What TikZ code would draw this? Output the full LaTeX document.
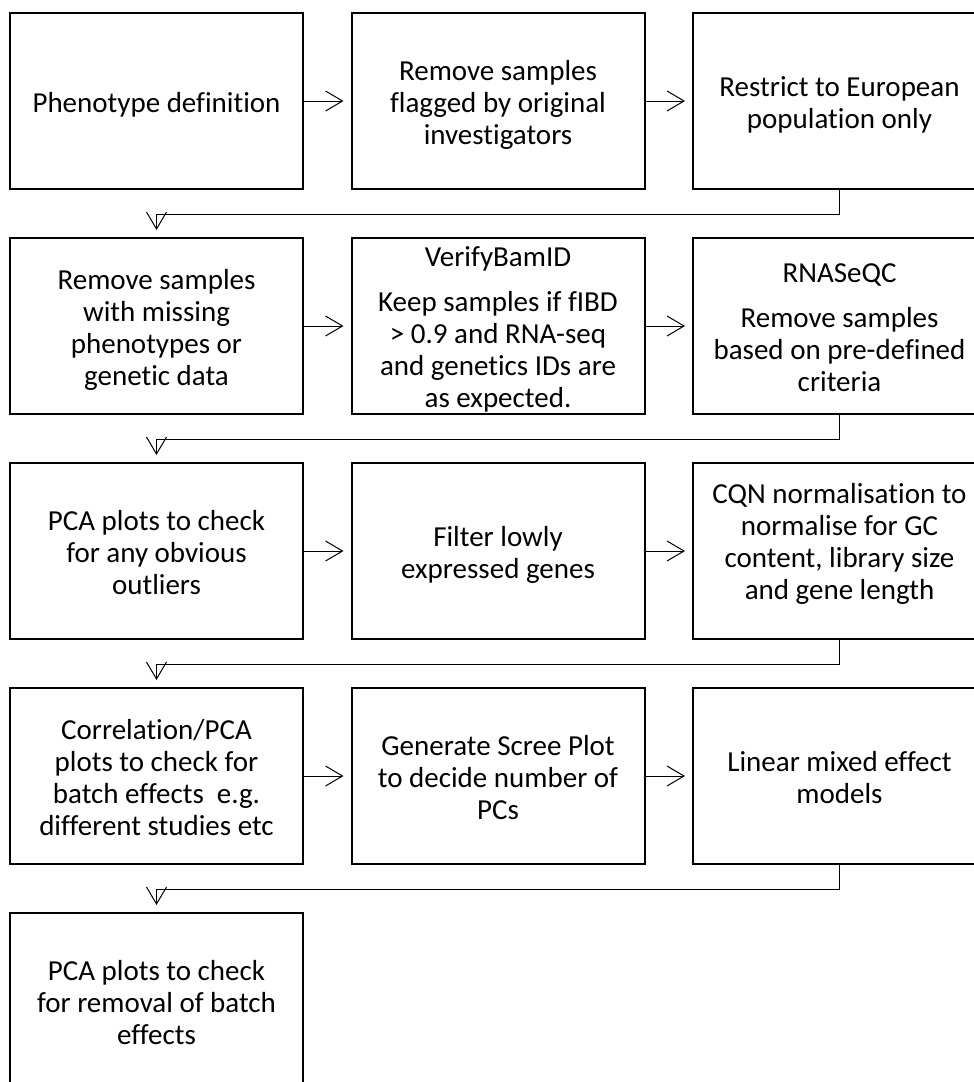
\documentclass[tikz,border=0pt]{standalone}
\usepackage{fontspec}
\setmainfont{Carlito}[Ligatures=CommonOff]
\usetikzlibrary{arrows.meta}

% line strut: every line gets the same height and depth
\newcommand{\ls}{\rule[-5pt]{0pt}{32pt}}

\tikzset{
  boxtext/.style={inner sep=0pt, align=center, font=\fontsize{29}{32}\selectfont},
  stepbox/.style={boxtext, draw, line width=2pt, minimum width=293pt, minimum height=176pt},
  conn/.style={draw, line width=1pt,
    -{Straight Barb[length=17pt, width=20pt, line width=1pt]}, shorten >=7pt},
}

\begin{document}
\begin{tikzpicture}[x=1pt, y=-1pt]
\useasboundingbox (0,0) rectangle (974,1082);
\clip (0,0) rectangle (974,1082);

% row 1
\node[stepbox] (pheno) at (156.5,101) {\ls Phenotype definition\ls};
\node[stepbox] (flag) at (498,101) {\ls Remove samples\\\ls flagged by original\\\ls investigators};
\node[stepbox] (euro) at (839.5,101) {\ls Restrict to European\\\ls population only};

% row 2
\node[stepbox] (miss) at (156.5,326) {\ls Remove samples\\\ls with missing\\\ls phenotypes or\\\ls genetic data};
\node[stepbox] (vbam) at (498,326) {\ls VerifyBamID\\[13pt]\ls Keep samples if fIBD\\\ls > 0.9 and RNA-seq\\\ls and genetics IDs are\\\ls as expected.};
\node[stepbox] (rnaqc) at (839.5,326) {\ls RNASeQC\\[13pt]\ls Remove samples\\\ls based on pre-defined\\\ls criteria};

% row 3
\node[stepbox] (pca1) at (156.5,551) {\ls PCA plots to check\\\ls for any obvious\\\ls outliers};
\node[stepbox] (filt) at (498,551) {\ls Filter lowly\\\ls expressed genes};
\node[stepbox] (cqn) at (839.5,551) {};
\node[boxtext] (cqntext) at (839.5,540.5) {\ls CQN normalisation to\\\ls normalise for GC\\\ls content, library size\\\ls and gene length};

% row 4
\node[stepbox] (corr) at (156.5,776) {\ls Correlation/PCA\\\ls plots to check for\\\ls batch effects\ \ e.g.\\\ls different studies etc};
\node[stepbox] (scree) at (498,776) {\ls Generate Scree Plot\\\ls to decide number of\\\ls PCs};
\node[stepbox] (lmm) at (839.5,776) {\ls Linear mixed effect\\\ls models};

% row 5
\node[stepbox] (pca2) at (156.5,1001) {\ls PCA plots to check\\\ls for removal of batch\\\ls effects};

% arrows within rows
\draw[conn] (pheno.east) -- (flag.west);
\draw[conn] (flag.east) -- (euro.west);
\draw[conn] (miss.east) -- (vbam.west);
\draw[conn] (vbam.east) -- (rnaqc.west);
\draw[conn] (pca1.east) -- (filt.west);
\draw[conn] (filt.east) -- (cqn.west);
\draw[conn] (corr.east) -- (scree.west);
\draw[conn] (scree.east) -- (lmm.west);

% arrows from the end of one row to the start of the next
\draw[conn] (euro.south) -- ++(0,24.5) -| (miss.north);
\draw[conn] (rnaqc.south) -- ++(0,24.5) -| (pca1.north);
\draw[conn] (cqn.south) -- ++(0,24.5) -| (corr.north);
\draw[conn] (lmm.south) -- ++(0,24.5) -| (pca2.north);
\end{tikzpicture}
\end{document}
